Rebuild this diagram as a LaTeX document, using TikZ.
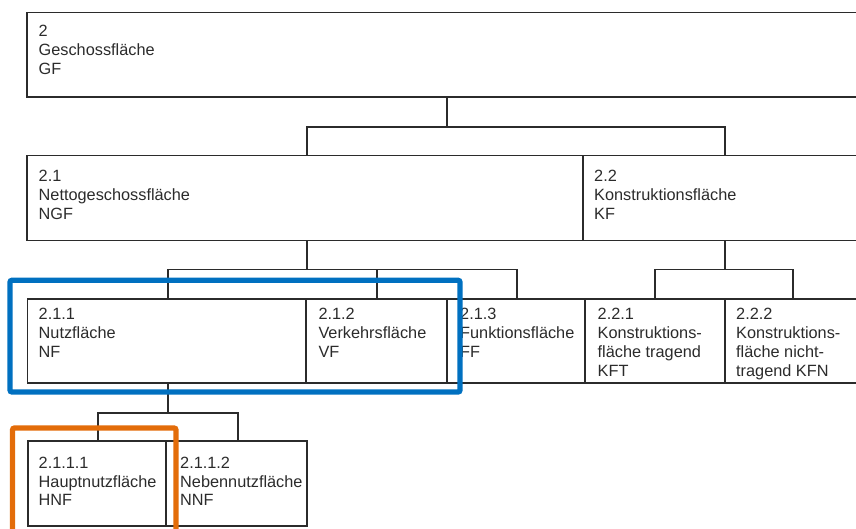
\documentclass[tikz,border=0pt]{standalone}
\usepackage{fontspec}
\setmainfont{Liberation Sans}
\definecolor{hlblue}{HTML}{0070C0}
\definecolor{hlorange}{HTML}{E36C09}
\definecolor{ink}{HTML}{2B2B2B}
\begin{document}
\begin{tikzpicture}[x=1pt,y=-1pt,
  box/.style={draw=ink, line width=1.1pt, inner sep=0pt, outer sep=0pt, anchor=north west},
  lbl/.style={anchor=north west, inner sep=0pt, align=left, font=\fontsize{16.3}{18.8}\selectfont, text=ink},
  conn/.style={draw=ink, line width=1.1pt},
  hl/.style={line width=5.3pt, rounded corners=2pt}]
\useasboundingbox (0,0) rectangle (856,529);
% boxes
\node[box, minimum width=843pt, minimum height=84.5pt] (gf) at (27,12.5) {};
\node[box, minimum width=556pt, minimum height=85pt] (ngf) at (27,155.5) {};
\node[box, minimum width=287pt, minimum height=85pt] (kf) at (583,155.5) {};
\node[box, minimum width=278.5pt, minimum height=84pt] (nf) at (27.5,299) {};
\node[box, minimum width=141pt, minimum height=84pt] (vf) at (306,299) {};
\node[box, minimum width=138pt, minimum height=84pt] (ff) at (447,299) {};
\node[box, minimum width=140pt, minimum height=84pt] (kft) at (585,299) {};
\node[box, minimum width=145pt, minimum height=84pt] (kfn) at (725,299) {};
\node[box, minimum width=138pt, minimum height=85pt] (hnf) at (28,441) {};
\node[box, minimum width=141pt, minimum height=85pt] (nnf) at (166,441) {};
% labels
\node[lbl] (tgf) at (38.5,25) {2\\Geschossfläche\\GF};
\node[lbl] (tngf) at (38.5,170) {2.1\\Nettogeschossfläche\\NGF};
\node[lbl] (tkf) at (594,170) {2.2\\Konstruktionsfläche\\KF};
\node[lbl] (tnf) at (38.5,308.3) {2.1.1\\Nutzfläche\\NF};
\node[lbl] (tvf) at (318.3,308.3) {2.1.2\\Verkehrsfläche\\VF};
\node[lbl] (tff) at (460,308.3) {2.1.3\\Funktionsfläche\\FF};
\node[lbl] (tkft) at (597.5,308.3) {2.2.1\\Konstruktions-\\fläche tragend\\KFT};
\node[lbl] (tkfn) at (736,308.3) {2.2.2\\Konstruktions-\\fläche nicht-\\tragend KFN};
\node[lbl] (thnf) at (38.5,456.7) {2.1.1.1\\Hauptnutzfläche\\HNF};
\node[lbl] (tnnf) at (180,456.7) {2.1.1.2\\Nebennutzfläche\\NNF};
% connectors
\coordinate (t1) at (447,127);
\coordinate (l1) at (307,127);
\coordinate (r1) at (725,127);
\draw[conn] (gf.south -| t1) -- (t1);
\draw[conn] (ngf.north -| l1) -- (l1) -- (r1) -- (kf.north -| r1);
\coordinate (t2) at (307,269.5);
\coordinate (a2) at (168,269.5);
\coordinate (b2) at (377,269.5);
\coordinate (c2) at (517,269.5);
\draw[conn] (ngf.south -| t2) -- (t2);
\draw[conn] (nf.north -| a2) -- (a2) -- (c2) -- (ff.north -| c2);
\draw[conn] (b2) -- (vf.north -| b2);
\coordinate (t3) at (725,269.5);
\coordinate (a3) at (655,269.5);
\coordinate (b3) at (793,269.5);
\draw[conn] (kf.south -| t3) -- (t3);
\draw[conn] (kft.north -| a3) -- (a3) -- (b3) -- (kfn.north -| b3);
\coordinate (t4) at (168,413);
\coordinate (a4) at (98,413);
\coordinate (b4) at (238,413);
\draw[conn] (nf.south -| t4) -- (t4);
\draw[conn] (hnf.north -| a4) -- (a4) -- (b4) -- (nnf.north -| b4);
% highlights
\draw[hl, draw=hlblue] (10,280.3) rectangle (460,392);
\draw[hl, draw=hlorange] (12.5,428) rectangle (176,545);
\end{tikzpicture}
\end{document}
